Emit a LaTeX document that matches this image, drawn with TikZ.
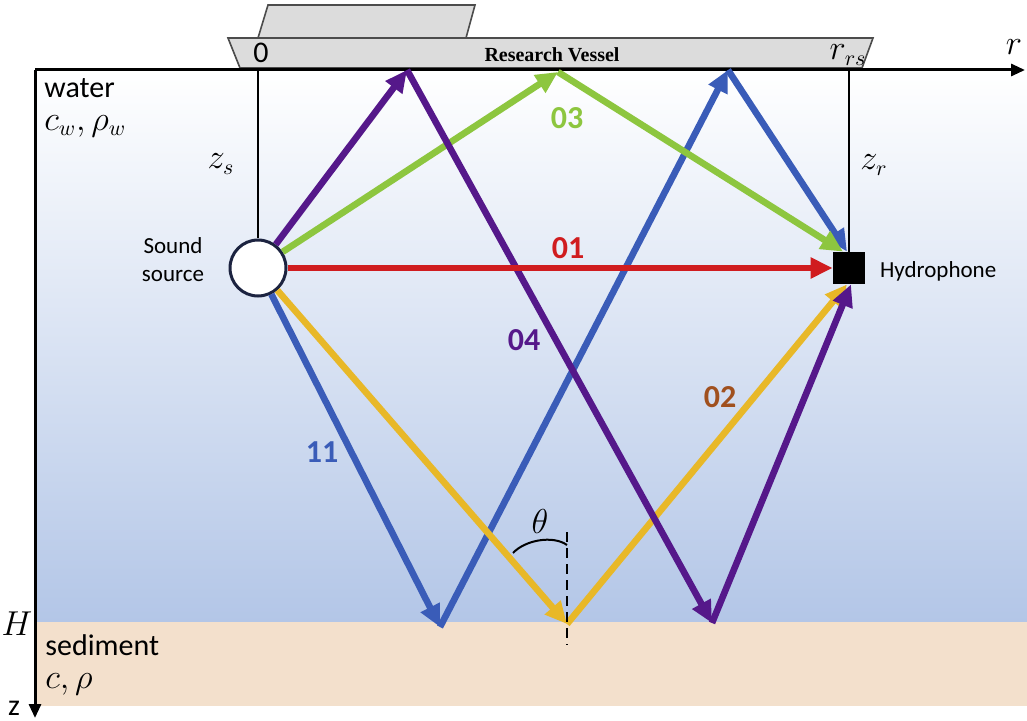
\documentclass[tikz,border=0pt]{standalone}
\usepackage{fontspec}
\setmainfont{Carlito}
\newfontfamily\vesselfont{Liberation Serif}
\usetikzlibrary{arrows.meta}
\definecolor{waterblue}{HTML}{B3C6E7}
\definecolor{sandcol}{HTML}{F3E0CC}
\definecolor{hullgray}{HTML}{DCDCDC}
\definecolor{srcnavy}{HTML}{1C2340}
\definecolor{rayred}{HTML}{D01C1F}
\definecolor{raygreen}{HTML}{8DC63F}
\definecolor{rayyellow}{HTML}{E8B828}
\definecolor{raypurple}{HTML}{55188A}
\definecolor{rayblue}{HTML}{3A5CB8}
\definecolor{labbrown}{HTML}{A0501E}
\tikzset{
  ray/.style={line width=3.3pt, -{Triangle[length=11pt,width=10pt]}},
  raylabel/.style={font=\fontsize{16}{18}\selectfont\bfseries},
  axisline/.style={line width=1.5pt, -{Triangle[length=7pt,width=6pt]}},
  depthline/.style={line width=1.4pt},
  mathlabel/.style={font=\fontsize{16}{18}\selectfont, inner sep=1pt},
  textlabel/.style={font=\fontsize{15}{18}\selectfont, inner sep=1pt},
  smalllabel/.style={font=\fontsize{11.5}{14}\selectfont, align=center}
}
\begin{document}
\begin{tikzpicture}[x=0.5pt, y=-0.5pt]
\useasboundingbox (0,0) rectangle (1027,721);
\shade[top color=white, bottom color=waterblue] (35,70) rectangle (1027,622);
\fill[sandcol] (35,622) rectangle (1027,706);
\draw[line width=0.8pt, black!70, fill=hullgray] (258,38) -- (268,5) -- (475,5) -- (466,38);
\draw[line width=0.8pt, black!70, fill=hullgray] (228,38) -- (873,38) -- (862,68) -- (240,68) -- cycle;
\node[font=\vesselfont\fontsize{10}{12}\selectfont\bfseries] (vessel) at (552,55) {Research Vessel};
\coordinate (origin) at (35,70);
\coordinate (rend) at (1025,70);
\coordinate (zend) at (35,718);
\draw[axisline] (origin) -- (rend);
\draw[axisline] (origin) -- (zend);
\node[textlabel] (zero) at (261,53) {0};
\node[mathlabel] (rrs) at (848,55) {$r_{rs}$};
\node[mathlabel] (rlab) at (1014,47) {$r$};
\node[textlabel, inner sep=0pt] (zlab) at (14,708) {z};
\node[mathlabel] (hlab) at (17,624) {$H$};
\node[textlabel, anchor=west] (water) at (42,88) {water};
\node[mathlabel, anchor=west] (wparam) at (42,126) {$c_w,\rho_w$};
\node[textlabel, anchor=west, inner sep=0pt] (sed) at (45,645) {sediment};
\node[mathlabel, anchor=west, inner sep=0pt] (sparam) at (45,684) {$c,\rho$};
\node[draw=srcnavy, line width=1.5pt, fill=white, circle, minimum size=28pt, inner sep=0pt] (src) at (258,268) {};
\node[fill=black, minimum size=16pt, inner sep=0pt] (hyd) at (849,268) {};
\node[smalllabel] (srclab) at (173,260) {Sound\\source};
\node[smalllabel, anchor=west] (hydlab) at (873,271) {Hydrophone};
\coordinate (zstop) at (258,70);
\coordinate (zrtop) at (849,70);
\draw[depthline] (zstop) -- (src);
\draw[depthline] (zrtop) -- (hyd.north);
\node[mathlabel] (zs) at (221,164) {$z_s$};
\node[mathlabel] (zr) at (874,165) {$z_r$};
\coordinate (s1) at (407,70);
\coordinate (s2) at (558,72);
\coordinate (s3) at (728,70);
\coordinate (b1) at (440,627);
\coordinate (b2) at (567,624);
\coordinate (b3) at (712,623);
\draw[ray, rayblue] (src) -- (b1);
\draw[ray, rayblue] (b1) -- (s3);
\draw[ray, rayblue] (s3) -- ([xshift=-1pt]hyd.north);
\draw[ray, rayyellow] (src) -- (b2);
\draw[ray, rayyellow] (b2) -- ([xshift=-1pt]hyd.south);
\draw[ray, raygreen] (src) -- (s2);
\draw[ray, raygreen] (s2) -- ([xshift=-3pt]hyd.north);
\draw[ray, raypurple] (src) -- (s1);
\draw[ray, raypurple] (s1) -- (b3);
\draw[ray, raypurple] (b3) -- ([xshift=1pt]hyd.south);
\draw[ray, rayred] (src) -- (hyd);
\coordinate (ntop) at (567,532);
\coordinate (nbot) at (567,645);
\draw[line width=1pt, dashed, dash pattern=on 5pt off 3pt] (ntop) -- (nbot);
\draw[line width=1pt] (513,553) .. controls (525,540) and (553,535) .. (567,545);
\node[mathlabel] (theta) at (540,521) {$\theta$};
\node[raylabel, rayred] (l01) at (568,248) {01};
\node[raylabel, raygreen] (l03) at (567,118) {03};
\node[raylabel, raypurple] (l04) at (524,340) {04};
\node[raylabel, rayblue] (l11) at (322,452) {11};
\node[raylabel, labbrown] (l02) at (720,397) {02};
\end{tikzpicture}
\end{document}
